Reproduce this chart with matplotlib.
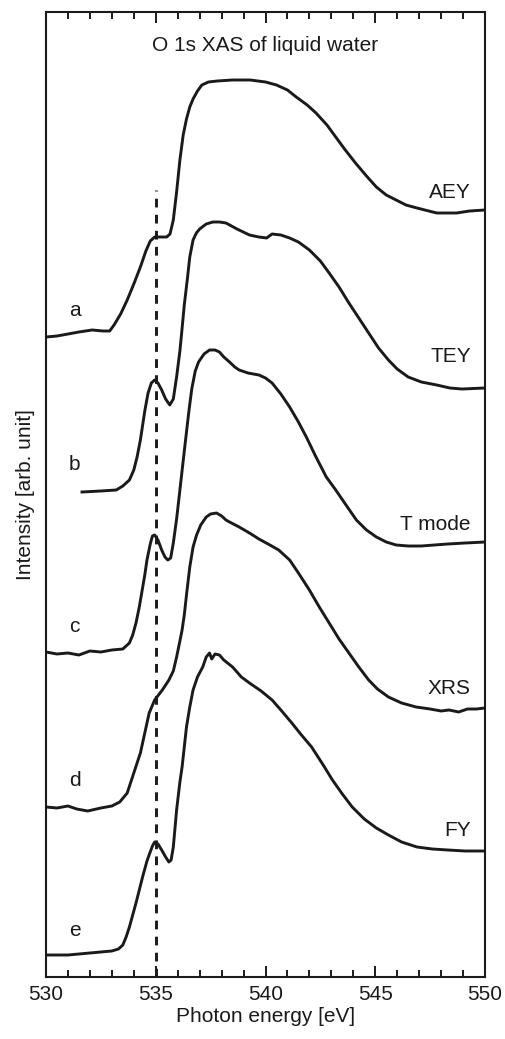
import numpy as np
import matplotlib.pyplot as plt
from matplotlib.ticker import MultipleLocator

plt.rcParams['font.family'] = ['Liberation Sans', 'DejaVu Sans']

# -----------------------------
# Spectra (stacked, arb. units)
# -----------------------------
e_aey = [530.0, 530.5, 531.0, 531.5, 532.1, 532.6, 532.9, 533.1, 533.4, 533.7, 534.0,
         534.3, 534.55, 534.75, 534.95, 535.2, 535.5, 535.65, 535.8, 535.95, 536.1,
         536.25, 536.4, 536.55, 536.7, 536.9, 537.1, 537.4, 537.8, 538.5, 539.3,
         540.0, 540.5, 541.0, 541.4, 541.9, 542.3, 542.8, 543.2, 543.6, 544.1, 544.6,
         545.05, 545.5, 545.95, 546.4, 546.9, 547.8, 548.7, 549.3, 550.0]
i_aey = [6.40, 6.41, 6.43, 6.45, 6.47, 6.46, 6.46, 6.52, 6.63, 6.77, 6.93,
         7.10, 7.26, 7.36, 7.40, 7.40, 7.40, 7.43, 7.57, 7.85, 8.17,
         8.42, 8.58, 8.70, 8.78, 8.86, 8.92, 8.95, 8.96, 8.97, 8.97,
         8.95, 8.92, 8.87, 8.80, 8.72, 8.64, 8.52, 8.40, 8.28, 8.14, 8.01,
         7.90, 7.82, 7.77, 7.72, 7.69, 7.64, 7.64, 7.66, 7.67]

e_tey = [531.64, 532.5, 533.2, 533.5, 533.8, 534.0, 534.15, 534.3, 534.5, 534.65,
         534.8, 534.95, 535.1, 535.27, 535.45, 535.64, 535.8, 535.95, 536.1, 536.18,
         536.3, 536.45, 536.55, 536.7, 536.85, 537.0, 537.3, 537.6, 537.9, 538.2,
         538.7, 539.27, 539.7, 540.05, 540.3, 540.7, 541.1, 541.5, 542.0, 542.5,
         542.9, 543.35, 543.8, 544.25, 544.7, 545.15, 545.6, 546.0, 546.5, 547.1,
         547.8, 548.4, 548.95, 550.0]
i_tey = [4.85, 4.86, 4.87, 4.91, 4.97, 5.07, 5.20, 5.37, 5.66, 5.84,
         5.94, 5.97, 5.94, 5.87, 5.78, 5.72, 5.78, 6.00, 6.26, 6.44,
         6.72, 7.00, 7.20, 7.37, 7.44, 7.48, 7.53, 7.55, 7.55, 7.54,
         7.48, 7.42, 7.40, 7.39, 7.43, 7.42, 7.39, 7.35, 7.27, 7.16,
         7.04, 6.90, 6.74, 6.59, 6.44, 6.29, 6.17, 6.08, 6.00, 5.95,
         5.92, 5.89, 5.88, 5.89]

e_tmode = [530.0, 530.5, 531.0, 531.5, 532.0, 532.5, 533.0, 533.5, 533.8, 533.95, 534.1,
           534.25, 534.36, 534.5, 534.6, 534.75, 534.85, 534.95, 535.1, 535.27, 535.42,
           535.55, 535.68, 535.8, 535.95, 536.1, 536.27, 536.4, 536.5, 536.64, 536.8,
           536.95, 537.2, 537.45, 537.7, 537.9, 538.1, 538.36, 538.6, 538.8, 539.2,
           539.7, 540.0, 540.3, 540.7, 541.1, 541.5, 541.86, 542.3, 542.77, 543.2,
           543.7, 544.14, 544.6, 545.05, 545.5, 545.95, 546.5, 547.1, 547.7, 548.3,
           549.1, 550.0]
i_tmode = [3.25, 3.23, 3.24, 3.22, 3.26, 3.25, 3.27, 3.28, 3.34, 3.42, 3.54,
           3.70, 3.84, 4.02, 4.17, 4.33, 4.41, 4.42, 4.37, 4.27, 4.20,
           4.17, 4.19, 4.34, 4.58, 4.87, 5.20, 5.45, 5.64, 5.88, 6.06,
           6.15, 6.23, 6.27, 6.27, 6.25, 6.20, 6.15, 6.10, 6.07, 6.04,
           6.02, 5.99, 5.94, 5.83, 5.70, 5.55, 5.40, 5.20, 5.00, 4.87,
           4.71, 4.57, 4.47, 4.40, 4.35, 4.32, 4.31, 4.31, 4.32, 4.33,
           4.34, 4.35]

e_xrs = [530.0, 530.5, 531.0, 531.4, 531.9, 532.5, 533.0, 533.36, 533.7, 534.0, 534.3,
         534.5, 534.7, 534.95, 535.3, 535.6, 535.8, 535.95, 536.1, 536.2, 536.3,
         536.4, 536.55, 536.7, 536.86, 537.05, 537.3, 537.5, 537.77, 538.0,
         538.2, 538.36, 538.8, 539.27, 539.7, 540.2, 540.6, 541.1, 541.5, 542.0,
         542.45, 542.9, 543.35, 543.8, 544.25, 544.7, 545.1, 545.6, 546.2, 546.86,
         547.5, 548.0, 548.36, 548.8, 549.2, 549.6, 550.0]
i_xrs = [1.70, 1.69, 1.71, 1.68, 1.66, 1.69, 1.71, 1.75, 1.84, 2.04, 2.24,
         2.44, 2.64, 2.77, 2.87, 2.97, 3.06, 3.20, 3.36, 3.47, 3.62,
         3.82, 4.10, 4.30, 4.42, 4.52, 4.60, 4.63, 4.64, 4.61,
         4.57, 4.55, 4.50, 4.44, 4.38, 4.32, 4.27, 4.17, 4.04, 3.87,
         3.70, 3.54, 3.38, 3.24, 3.10, 2.97, 2.88, 2.80, 2.74, 2.70,
         2.68, 2.66, 2.67, 2.65, 2.68, 2.68, 2.69]

e_fy = [530.0, 531.0, 532.0, 533.0, 533.3, 533.5, 533.65, 533.8, 534.1, 534.4, 534.6,
        534.73, 534.85, 534.95, 535.1, 535.27, 535.45, 535.6, 535.7, 535.8, 535.95,
        536.1, 536.2, 536.3, 536.4, 536.55, 536.7, 536.9, 537.14, 537.3, 537.45,
        537.55, 537.7, 537.9, 538.1, 538.5, 538.9, 539.27, 539.8, 540.3, 540.7,
        541.2, 541.6, 542.1, 542.6, 543.05, 543.5, 543.95, 544.5, 545.05, 545.6,
        546.2, 546.9, 547.6, 548.3, 549.1, 550.0]
i_fy = [0.22, 0.22, 0.24, 0.26, 0.28, 0.32, 0.40, 0.50, 0.74, 1.00, 1.16,
        1.24, 1.31, 1.35, 1.33, 1.27, 1.20, 1.15, 1.17, 1.30, 1.67,
        1.95, 2.10, 2.30, 2.50, 2.70, 2.87, 3.00, 3.10, 3.20, 3.24,
        3.18, 3.23, 3.22, 3.17, 3.10, 3.00, 2.94, 2.86, 2.77, 2.67,
        2.54, 2.43, 2.30, 2.13, 1.97, 1.83, 1.70, 1.58, 1.49, 1.42,
        1.35, 1.30, 1.28, 1.27, 1.26, 1.26]

names = ["AEY", "TEY", "T mode", "XRS", "FY"]
letters = ["a", "b", "c", "d", "e"]
name_y = [7.85, 6.20, 4.52, 2.89, 1.47]
letter_y = [6.67, 5.12, 3.50, 1.97, 0.47]

pre_edge = 535.0
pre_edge_top = 7.87

# -----------------------------
# Figure
# -----------------------------
fig = plt.figure(figsize=(5.06, 10.39), dpi=100)
ax = fig.add_axes([46 / 506, 62 / 1039, 439 / 506, 965 / 1039])

curves = [(e_aey, i_aey), (e_tey, i_tey), (e_tmode, i_tmode), (e_xrs, i_xrs), (e_fy, i_fy)]
for (e, i) in curves:
    ax.plot(e, i, color='#1a1a1a', lw=2.1, solid_joinstyle='round')

ax.plot([pre_edge, pre_edge], [0, pre_edge_top], color='#1a1a1a', lw=2.1,
        linestyle=(0, (3, 2.5)))

fs = 15
for nm, y in zip(names, name_y):
    ax.text(549.35, y, nm, ha='right', va='center', fontsize=fs, color='#1a1a1a')
for lt, y in zip(letters, letter_y):
    ax.text(531.3, y, lt, ha='center', va='center', fontsize=fs, color='#1a1a1a')

ax.text(0.5, 0.965, "O 1s XAS of liquid water", transform=ax.transAxes,
        ha='center', va='center', fontsize=fs, color='#1a1a1a')

ax.set_xlim(530, 550)
ax.set_ylim(0, 9.65)
ax.xaxis.set_major_locator(MultipleLocator(5))
ax.xaxis.set_minor_locator(MultipleLocator(1))
ax.tick_params(axis='x', which='both', direction='in', top=True, bottom=True,
               labelsize=fs, pad=6, width=1.4, colors='#1a1a1a')
ax.tick_params(axis='x', which='major', length=8)
ax.tick_params(axis='x', which='minor', length=5)
ax.set_yticks([])
for sp in ax.spines.values():
    sp.set_linewidth(1.5)
    sp.set_color('#1a1a1a')

ax.set_xlabel("Photon energy [eV]", fontsize=fs, labelpad=2, color='#1a1a1a')
ax.set_ylabel("Intensity [arb. unit]", fontsize=fs, labelpad=8, color='#1a1a1a')

fig.savefig("out.png", dpi=100)
